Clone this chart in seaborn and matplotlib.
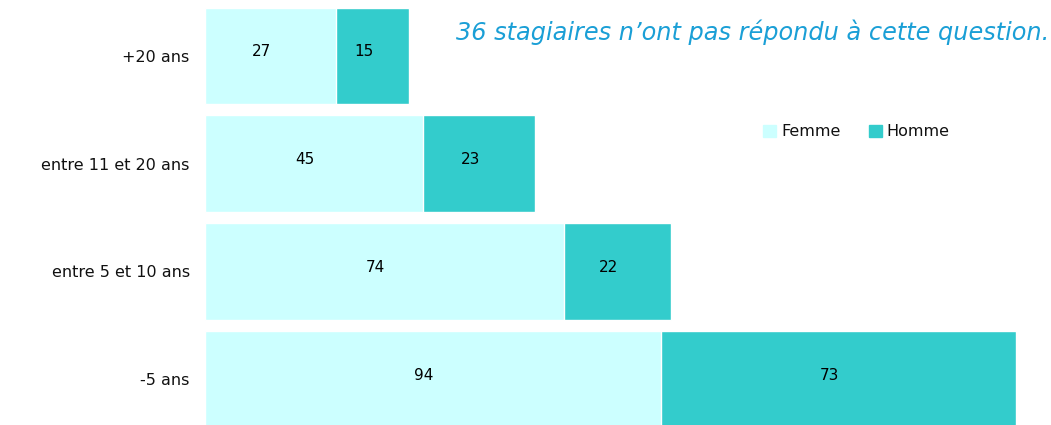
import pandas as pd
import seaborn as sns
import matplotlib.pyplot as plt
from matplotlib.patches import Patch

# Données
categories = ["+20 ans", "entre 11 et 20 ans", "entre 5 et 10 ans", "-5 ans"]
femme = [27, 45, 74, 94]
homme = [15, 23, 22, 73]

couleur_femme = "#CCFFFF"
couleur_homme = "#33CCCC"

df = pd.DataFrame({"categorie": categories, "Femme": femme, "Homme": homme})
df["total"] = df["Femme"] + df["Homme"]

sns.set_style("white")
plt.rcParams["font.family"] = ["DejaVu Sans"]

fig = plt.figure(figsize=(10.51, 4.25), dpi=100)
ax = fig.add_axes([0.195, -0.019, 0.7717, 1.014])

# barres empilées : total (Homme) puis Femme par-dessus
sns.barplot(data=df, x="total", y="categorie", color=couleur_homme,
            width=0.9, orient="h", ax=ax, saturation=1)
sns.barplot(data=df, x="Femme", y="categorie", color=couleur_femme,
            width=0.9, orient="h", ax=ax, saturation=1)

# étiquettes de valeur (légèrement décalées à gauche comme dans l'original)
for i, row in df.iterrows():
    ax.annotate(str(row["Femme"]), (row["Femme"] / 2, i),
                xytext=(-6.5, 3), textcoords="offset points",
                ha="center", va="center", fontsize=11, color="black")
    ax.annotate(str(row["Homme"]), (row["Femme"] + row["Homme"] / 2, i),
                xytext=(-6.5, 3), textcoords="offset points",
                ha="center", va="center", fontsize=11, color="black")

ax.set_xlim(0, 167)
ax.set_ylim(3.5, -0.5)
ax.set_xlabel("")
ax.set_ylabel("")
ax.set_xticks([])
ax.tick_params(axis="y", length=0, labelsize=11.5, pad=11, labelcolor="#111111")
sns.despine(ax=ax, left=True, bottom=True)

handles = [Patch(color=couleur_femme, label="Femme"),
           Patch(color=couleur_homme, label="Homme")]
fig.legend(handles=handles, loc="center", bbox_to_anchor=(0.815, 0.69),
           ncol=2, frameon=False, fontsize=11.5, handlelength=0.8,
           handleheight=0.8, handletextpad=0.3, columnspacing=1.8,
           labelcolor="#111111")

fig.text(0.998, 0.925, "36 stagiaires n’ont pas répondu à cette question.",
         ha="right", va="center", fontsize=17.3, color="#1A9FD6",
         fontstyle="italic")

plt.savefig("out.png", dpi=100)
plt.close()
